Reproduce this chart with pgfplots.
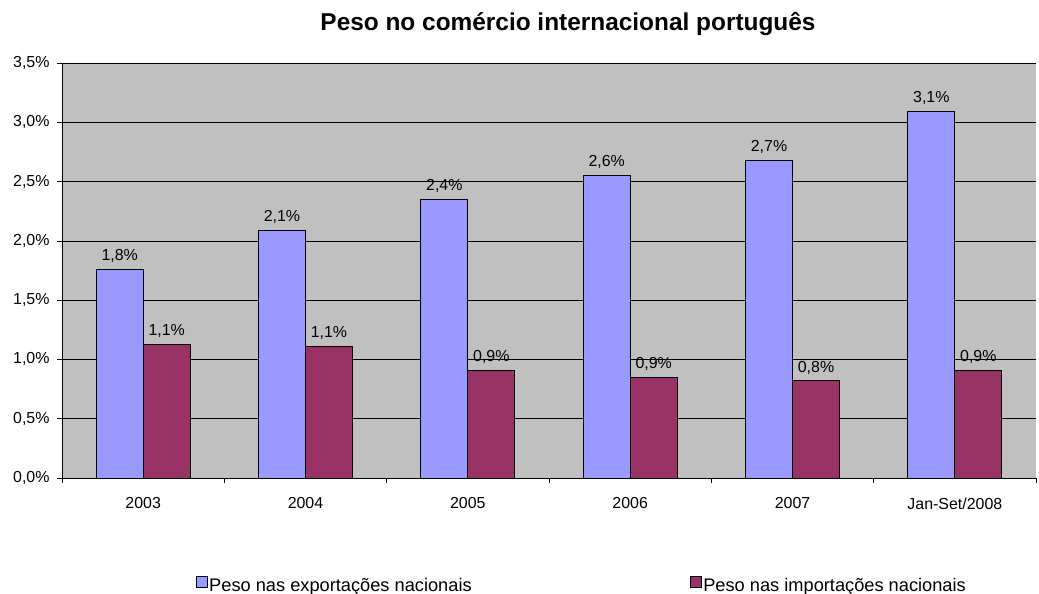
\documentclass[border=0pt]{standalone}
\usepackage{pgfplots}
\pgfplotsset{compat=1.18}
\usepackage{fontspec}
\setmainfont{Liberation Sans}
\definecolor{expcol}{RGB}{153,153,255}
\definecolor{impcol}{RGB}{153,51,102}
\definecolor{plotbg}{RGB}{192,192,192}

\begin{document}
\begin{tikzpicture}[x=1bp,y=1bp]
\path[use as bounding box] (0,0) rectangle (1039,594);
\node[font=\fontsize{24.5}{27}\selectfont\bfseries, anchor=base] at (568,563) {Peso no comércio internacional português};
\begin{axis}[
  at={(62bp,116bp)}, anchor=south west,
  scale only axis, width=974bp, height=415bp,
  ybar=0pt, bar width=47bp,
  xmin=-0.5, xmax=5.5, ymin=0, ymax=0.035,
  axis x line*=bottom, axis y line*=left,
  axis line style={black, line width=0.8pt, -},
  axis background/.style={fill=plotbg},
  xtick={0,1,2,3,4,5},
  xticklabels={2003,2004,2005,2006,2007,Jan-Set/2008},
  major x tick style={draw=none},
  minor xtick={-0.5,0.5,1.5,2.5,3.5,4.5,5.5},
  minor x tick style={black, line width=0.6pt},
  minor tick length=5bp,
  ytick={0,0.005,0.01,0.015,0.02,0.025,0.03,0.035},
  major y tick style={black, line width=0.6pt},
  major tick length=5bp,
  tick align=outside,
  ymajorgrids, grid style={black, line width=0.6pt},
  scaled y ticks=false,
  yticklabel={\pgfmathparse{\tick*100}\pgfmathprintnumber[fixed,fixed zerofill,precision=1,use comma,assume math mode=true]{\pgfmathresult}\%},
  tick label style={font=\fontsize{16}{18}\selectfont},
  xticklabel style={yshift=-11bp},
  yticklabel style={xshift=-4bp},
  nodes near coords,
  point meta=explicit symbolic,
  every node near coord/.append style={font=\fontsize{16}{18}\selectfont, yshift=3bp},
  legend columns=2,
  legend style={at={(rel axis cs:0.137,-0.259)}, anchor=west, draw=none, fill=none,
    inner sep=0pt, nodes={inner sep=2bp},
    font=\fontsize{18.3}{20}\selectfont,
    /tikz/every even column/.append style={column sep=216bp}},
  legend image code/.code={\draw[#1, line width=0.6pt] (0bp,-2bp) rectangle (11bp,9bp);},
  legend cell align=left,
]
\addplot[fill=expcol, draw=black, line width=0.8pt] coordinates {
  (0,0.0176) [1,8\%] (1,0.0209) [2,1\%] (2,0.0235) [2,4\%]
  (3,0.0255) [2,6\%] (4,0.0268) [2,7\%] (5,0.0309) [3,1\%]};
\addplot[fill=impcol, draw=black, line width=0.8pt] coordinates {
  (0,0.0113) [1,1\%] (1,0.0111) [1,1\%] (2,0.0091) [0,9\%]
  (3,0.0085) [0,9\%] (4,0.0082) [0,8\%] (5,0.0091) [0,9\%]};
\legend{Peso nas exportações nacionais, Peso nas importações nacionais}
\end{axis}
\end{tikzpicture}
\end{document}
